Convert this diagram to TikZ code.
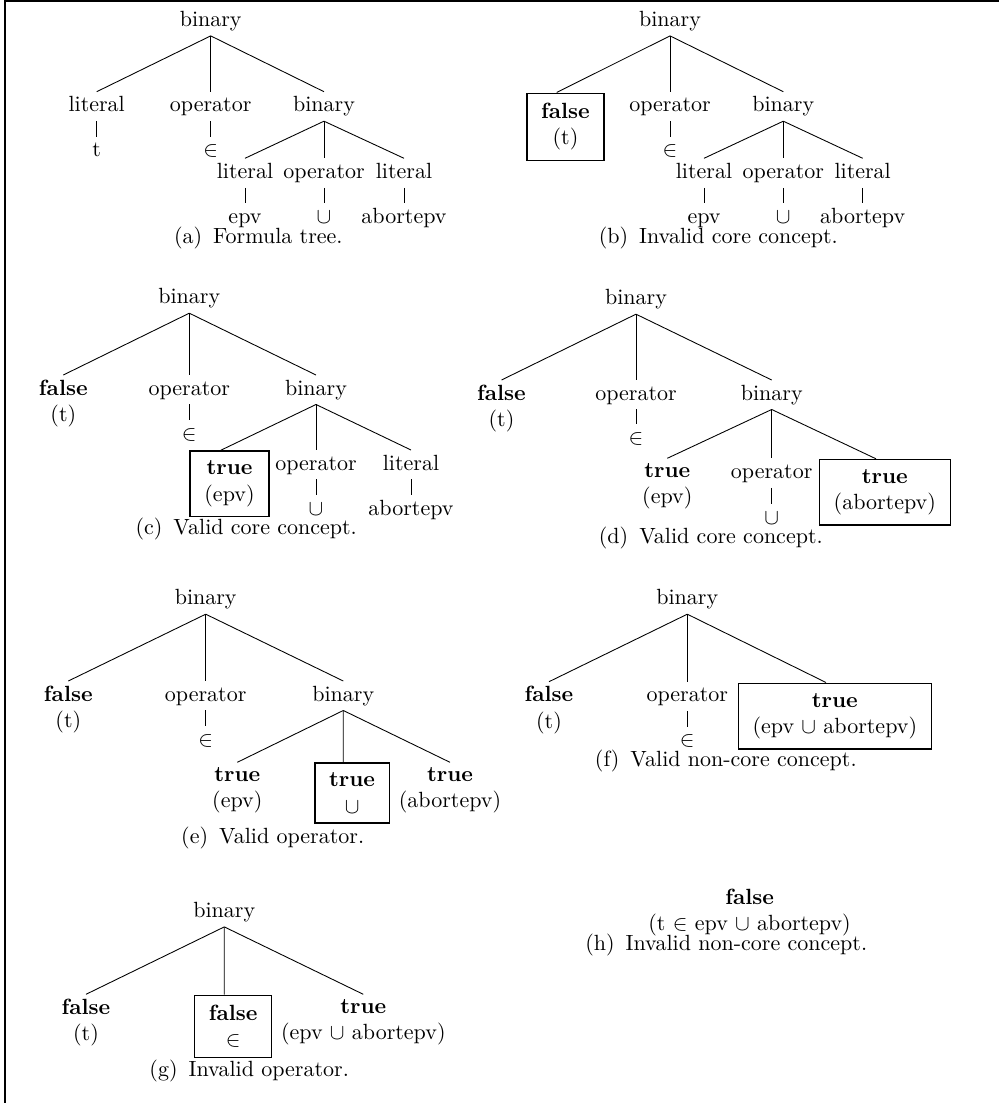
\documentclass[tikz,border=0pt]{standalone}
\usepackage{amsmath, amssymb}

\begin{document}
\begin{tikzpicture}[x=0.4545pt, y=-0.4545pt,
        tn/.style={anchor=north, inner sep=2pt, text height=7pt, text depth=2pt},
        val/.style={anchor=north, inner sep=2pt, align=center},
        hit/.style={val, draw, line width=0.6pt, inner xsep=6.5pt, inner ysep=4.5pt},
        subcap/.style={inner sep=0pt, text height=7pt, text depth=2pt}]
                \useasboundingbox (0,0) rectangle (999,1103);
                \draw[line width=0.9pt] (5,1103) -- (5,1) -- (999,1);

                % (a)
                \node[tn] (a0) at (210.7,6.4) {binary};
                \node[tn] (a1) at (96.7,91.7) {literal};
                \node[tn] (a2) at (210.7,91.7) {operator};
                \node[tn] (a3) at (324,91.7) {binary};
                \node[tn] (a11) at (96.7,136.7) {t};
                \node[tn] (a21) at (210.7,136.7) {$\in$};
                \node[tn] (a31) at (245,158.3) {literal};
                \node[tn] (a32) at (324,158.3) {operator};
                \node[tn] (a33) at (404,158.3) {literal};
                \node[tn] (a311) at (245,203.3) {epv};
                \node[tn] (a321) at (324,203.3) {$\cup$};
                \node[tn] (a331) at (404,203.3) {abortepv};
                \node[subcap] (acap) at (258.3,238.3) {(a)\enspace Formula tree.};

                % (b)
                \node[tn] (b0) at (670,6.4) {binary};
                \node[hit] (b1) at (565.5,92.5) {\textbf{false}\\(t)};
                \node[tn] (b2) at (670,91.7) {operator};
                \node[tn] (b3) at (783.3,91.7) {binary};
                \node[tn] (b21) at (670,136.7) {$\in$};
                \node[tn] (b31) at (704,158.3) {literal};
                \node[tn] (b32) at (783.3,158.3) {operator};
                \node[tn] (b33) at (862.7,158.3) {literal};
                \node[tn] (b311) at (704,203.3) {epv};
                \node[tn] (b321) at (783.3,203.3) {$\cup$};
                \node[tn] (b331) at (862.7,203.3) {abortepv};
                \node[subcap] (bcap) at (718.3,238.3) {(b)\enspace Invalid core concept.};

                % (c)
                \node[tn] (c0) at (189.3,283.7) {binary};
                \node[val] (c1) at (63.3,375) {\textbf{false}\\(t)};
                \node[tn] (c2) at (189.3,375) {operator};
                \node[tn] (c3) at (316,375) {binary};
                \node[tn] (c21) at (189.3,420) {$\in$};
                \node[hit] (c31) at (229.5,450.3) {\textbf{true}\\(epv)};
                \node[tn] (c32) at (316,450) {operator};
                \node[tn] (c33) at (411,450) {literal};
                \node[tn] (c321) at (316,495) {$\cup$};
                \node[tn] (c331) at (411,495) {abortepv};
                \node[subcap] (ccap) at (246.2,529.2) {(c)\enspace Valid core concept.};

                % (d)
                \node[tn] (d0) at (636,284.7) {binary};
                \node[val] (d1) at (501.5,380) {\textbf{false}\\(t)};
                \node[tn] (d2) at (636,380) {operator};
                \node[tn] (d3) at (771.7,380) {binary};
                \node[tn] (d21) at (636,424) {$\in$};
                \node[val] (d31) at (667.3,458.3) {\textbf{true}\\(epv)};
                \node[tn] (d32) at (771.7,458.3) {operator};
                \node[hit] (d33) at (884.8,458.8) {\textbf{true}\\(abortepv)};
                \node[tn] (d321) at (771.7,504) {$\cup$};
                \node[subcap] (dcap) at (710.8,538.3) {(d)\enspace Valid core concept.};

                % (e)
                \node[tn] (e0) at (205.7,584.7) {binary};
                \node[val] (e1) at (68.3,681) {\textbf{false}\\(t)};
                \node[tn] (e2) at (205.7,681) {operator};
                \node[tn] (e3) at (343.3,681) {binary};
                \node[tn] (e21) at (205.7,726) {$\in$};
                \node[val] (e31) at (237.3,762.3) {\textbf{true}\\(epv)};
                \node[hit] (e32) at (352.1,762.3) {\textbf{true}\\$\cup$};
                \node[val] (e33) at (450,762.3) {\textbf{true}\\(abortepv)};
                \node[subcap] (ecap) at (272.7,838.3) {(e)\enspace Valid operator.};

                % (f)
                \node[tn] (f0) at (687.3,584.7) {binary};
                \node[val] (f1) at (549,681.7) {\textbf{false}\\(t)};
                \node[tn] (f2) at (687.3,681.7) {operator};
                \node[hit] (f3) at (834.8,682.5) {\textbf{true}\\(epv $\cup$ abortepv)};
                \node[tn] (f21) at (687.3,726.7) {$\in$};
                \node[subcap] (fcap) at (725.8,760.7) {(f)\enspace Valid non-core concept.};

                % (g)
                \node[tn] (g0) at (224.3,897.4) {binary};
                \node[val] (g1) at (86,994.3) {\textbf{false}\\(t)};
                \node[hit] (g2) at (233.1,994.5) {\textbf{false}\\$\in$};
                \node[val] (g3) at (363.3,994.3) {\textbf{true}\\(epv $\cup$ abortepv)};
                \node[subcap] (gcap) at (249.2,1071) {(g)\enspace Invalid operator.};

                % (h)
                \node[val] (h0) at (749.6,884) {\textbf{false}\\(t $\in$ epv $\cup$ abortepv)};
                \node[subcap] (hcap) at (726.2,945) {(h)\enspace Invalid non-core concept.};

                \draw
                    (a0.south) edge (a1.north)
                    (a0.south) edge (a2.north)
                    (a0.south) edge (a3.north)
                    (a1.south) edge (a11.north)
                    (a2.south) edge (a21.north)
                    (a3.south) edge (a31.north)
                    (a3.south) edge (a32.north)
                    (a3.south) edge (a33.north)
                    (a31.south) edge (a311.north)
                    (a32.south) edge (a321.north)
                    (a33.south) edge (a331.north)

                    (b0.south) edge ([xshift=-4pt]b1.north)
                    (b0.south) edge (b2.north)
                    (b0.south) edge (b3.north)
                    (b2.south) edge (b21.north)
                    (b3.south) edge (b31.north)
                    (b3.south) edge (b32.north)
                    (b3.south) edge (b33.north)
                    (b31.south) edge (b311.north)
                    (b32.south) edge (b321.north)
                    (b33.south) edge (b331.north)

                    (c0.south) edge (c1.north)
                    (c0.south) edge (c2.north)
                    (c0.south) edge (c3.north)
                    (c2.south) edge (c21.north)
                    (c3.south) edge ([xshift=-4pt]c31.north)
                    (c3.south) edge (c32.north)
                    (c3.south) edge (c33.north)
                    (c32.south) edge (c321.north)
                    (c33.south) edge (c331.north)

                    (d0.south) edge (d1.north)
                    (d0.south) edge (d2.north)
                    (d0.south) edge (d3.north)
                    (d2.south) edge (d21.north)
                    (d3.south) edge (d31.north)
                    (d3.south) edge (d32.north)
                    (d3.south) edge ([xshift=-4pt]d33.north)
                    (d32.south) edge (d321.north)

                    (e0.south) edge (e1.north)
                    (e0.south) edge (e2.north)
                    (e0.south) edge (e3.north)
                    (e2.south) edge (e21.north)
                    (e3.south) edge (e31.north)
                    (e3.south) edge ([xshift=-4pt]e32.north)
                    (e3.south) edge (e33.north)

                    (f0.south) edge (f1.north)
                    (f0.south) edge (f2.north)
                    (f0.south) edge ([xshift=-4pt]f3.north)
                    (f2.south) edge (f21.north)

                    (g0.south) edge (g1.north)
                    (g0.south) edge ([xshift=-4pt]g2.north)
                    (g0.south) edge (g3.north)
                    ;
\end{tikzpicture}
\end{document}
